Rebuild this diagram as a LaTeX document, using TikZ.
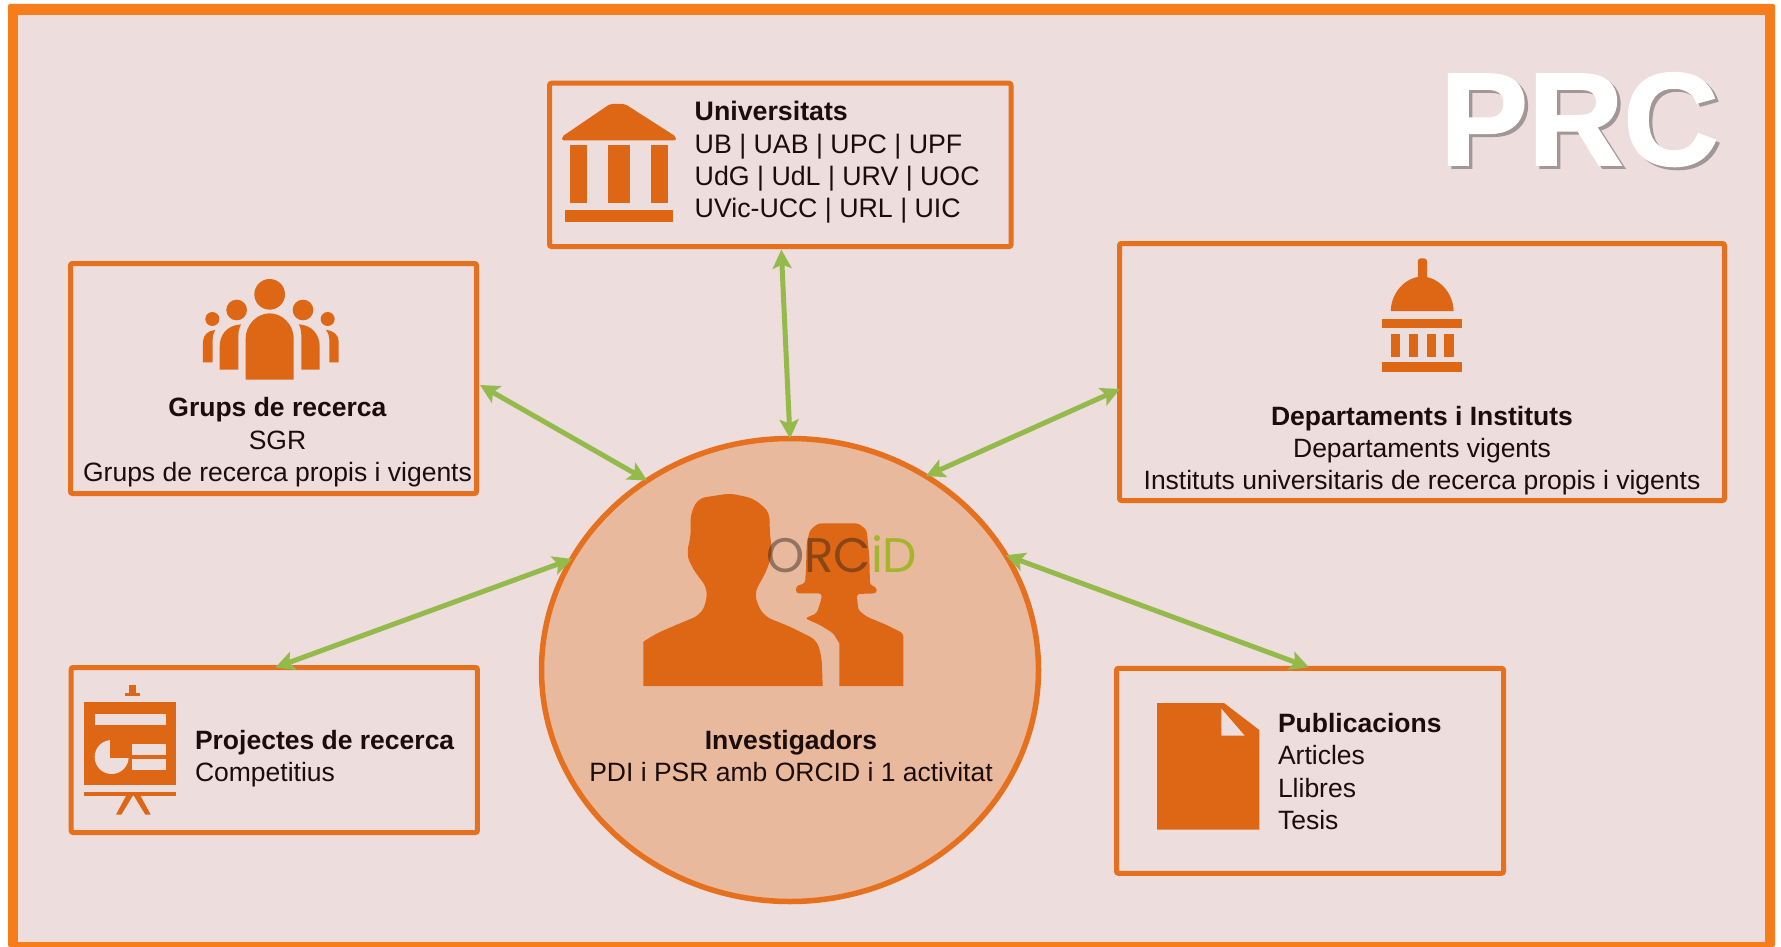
\documentclass[tikz,border=0pt]{standalone}
\usepackage{fontspec}
\setmainfont{Liberation Sans}
\newfontfamily\orcidfont{Poppins}
\newfontfamily\prcfam[BoldFeatures={FakeBold=1.5}]{Liberation Sans}
\usetikzlibrary{arrows.meta,shapes.geometric}
\definecolor{bgc}{HTML}{EDDDDD}
\definecolor{framec}{HTML}{F67D1A}
\definecolor{boxc}{HTML}{E5711F}
\definecolor{iconc}{HTML}{DD6714}
\definecolor{circc}{HTML}{E9B99D}
\definecolor{greenc}{HTML}{94BA4C}
\definecolor{textc}{HTML}{1C0D0D}
\definecolor{orcgray}{HTML}{2A1F1A}
\definecolor{orcgreen}{HTML}{A3B52B}
\definecolor{prcshadow}{HTML}{A29797}
\newcommand{\topstrut}{\rule{0pt}{20pt}}
\tikzset{
  panel/.style={rectangle,draw=boxc,line width=5pt,rounded corners=2pt,inner sep=0pt,outer sep=0pt},
  blocktext/.style={inner sep=0pt,outer sep=0pt,text=textc,font=\fontsize{26.5}{32.4}\selectfont},
  link/.style={draw=greenc,line width=5pt,{Stealth[length=19pt,width=19pt,inset=4pt]}-{Stealth[length=19pt,width=19pt,inset=4pt]}},
  icon/.style={fill=iconc,draw=none},
  cut/.style={fill=bgc,draw=none},
  prcfont/.style={inner sep=0pt,outer sep=0pt,anchor=base west,font=\prcfam\fontsize{132}{132}\selectfont\bfseries}
}
\begin{document}
\begin{tikzpicture}[x=1pt,y=-1pt]
\useasboundingbox (0,0) rectangle (1781,947);
% frame
\fill[framec,rounded corners=2pt] (8,4) rectangle (1775,947);
\fill[bgc] (18,15) rectangle (1765,942);
% panels
\node[panel,minimum width=461.5pt,minimum height=163.3pt] (uni) at (780.3,164.9) {};
\node[panel,minimum width=406pt,minimum height=230pt] (grups) at (273.5,378.5) {};
\node[panel,minimum width=605pt,minimum height=257pt] (dept) at (1422,372) {};
\node[panel,minimum width=406.3pt,minimum height=165pt] (proj) at (274.3,750) {};
\node[panel,minimum width=387pt,minimum height=205pt] (pub) at (1310,770.8) {};
\node[ellipse,draw=boxc,fill=circc,line width=5.5pt,inner sep=0pt,outer sep=0pt,minimum width=497pt,minimum height=463pt] (inv) at (790,670) {};
% connectors
\draw[link] ([shift={(1,3)}]uni.south) -- (inv.90);
\draw[link] ([shift={(3.5,6.5)}]grups.east) -- (inv.127.2);
\draw[link] ([shift={(0.5,17)}]dept.west) -- (inv.55.2);
\draw[link] ([shift={(1,0)}]proj.north) -- (inv.153.8);
\draw[link] ([shift={(-1,-1)}]pub.north) -- (inv.28);
% texts
\node[blocktext,align=left,anchor=north west,font=\fontsize{26.75}{32.4}\selectfont] (tuni) at (694.7,100.7) {\topstrut\textbf{Universitats}\\UB | UAB | UPC | UPF\\UdG | UdL | URV | UOC\\UVic-UCC | URL | UIC};
\node[blocktext,align=center,anchor=north] (tgrups) at (277.5,396.7) {\topstrut\textbf{Grups de recerca}\\SGR\\Grups de recerca propis i vigents};
\node[blocktext,align=center,anchor=north] (tdept) at (1422,405) {\topstrut\textbf{Departaments i Instituts}\\Departaments vigents\\Instituts universitaris de recerca propis i vigents};
\node[blocktext,align=left,anchor=north west] (tproj) at (195,729) {\topstrut\textbf{Projectes de recerca}\\Competitius};
\node[blocktext,align=left,anchor=north west] (tpub) at (1278,712.3) {\topstrut\textbf{Publicacions}\\Articles\\Llibres\\Tesis};
\node[blocktext,align=center,anchor=north] (tinv) at (791,729.3) {\topstrut\textbf{Investigadors}\\PDI i PSR amb ORCID i 1 activitat};
% PRC title
\node[prcfont,text=prcshadow] (prcs) at (1443.5,168) {PRC};
\node[prcfont,text=white] (prc) at (1440,165) {PRC};
% university icon
\begin{scope}[shift={(520,60)},scale=0.33333]
\fill[icon,rounded corners=2pt] (126,230) -- (270,132) -- (315,132) -- (468,230) -- (468,241) -- (126,241) -- cycle;
\fill[icon] (150,255) rectangle (200,430);
\fill[icon] (265,255) rectangle (330,430);
\fill[icon] (394,255) rectangle (444,430);
\fill[icon] (135,450) rectangle (459,487);
\end{scope}
% groups icon
\begin{scope}[shift={(60,250)},scale=0.33333]
\fill[icon] (629,133) circle[radius=46];
\fill[icon] (530,180) circle[radius=31];
\fill[icon] (729,180) circle[radius=31];
\fill[icon] (457,207) circle[radius=21];
\fill[icon] (803,207) circle[radius=21];
\fill[icon] (557,389) -- (557,265) .. controls (557,225) and (590,190) .. (629,190) .. controls (668,190) and (701,225) .. (701,265) -- (701,389) -- cycle;
\fill[icon] (479,359) -- (479,290) .. controls (479,255) and (500,226) .. (543,223) .. controls (535,240) and (535,250) .. (535,265) -- (535,359) -- cycle;
\fill[icon] (779,359) -- (779,290) .. controls (779,255) and (758,226) .. (717,223) .. controls (724,240) and (724,250) .. (724,265) -- (724,359) -- cycle;
\fill[icon] (429,337) -- (429,275) .. controls (429,255) and (445,241) .. (466,240) .. controls (460,250) and (458,258) .. (458,270) -- (458,337) -- cycle;
\fill[icon] (836,337) -- (836,275) .. controls (836,255) and (820,241) .. (798,240) .. controls (805,250) and (808,258) .. (808,270) -- (808,337) -- cycle;
\end{scope}
% department icon
\begin{scope}[shift={(1100,230)},xscale=0.42088,yscale=0.33333]
\fill[icon,rounded corners=3pt] (755,150) -- (755,85) -- (777,85) -- (777,150) -- cycle;
\fill[icon] (691,243) .. controls (691,190) and (725,140) .. (765,140) .. controls (805,140) and (840,190) .. (840,243) -- cycle;
\fill[icon] (670,266) rectangle (860,295);
\fill[icon] (691,311) rectangle (713,382);
\fill[icon] (733,311) rectangle (755,382);
\fill[icon] (776,311) rectangle (798,382);
\fill[icon] (818,311) rectangle (840,382);
\fill[icon] (670,397) rectangle (860,426);
\end{scope}
% project icon
\begin{scope}[shift={(60,650)},scale=0.33333]
\fill[icon] (207,105) rectangle (229,130);
\fill[icon] (195,128) rectangle (241,137);
\fill[icon] (72,157) rectangle (349,405);
\fill[cut] (105,192) rectangle (317,226);
\fill[cut] (155,321) circle[radius=51];
\fill[icon] (150,262) rectangle (210,325);
\fill[cut] (217,282) rectangle (317,316);
\fill[cut] (217,326) rectangle (317,360);
\fill[icon] (72,426) rectangle (349,438);
\fill[icon] (198,438) -- (218,438) -- (184,494) -- (168,494) -- cycle;
\fill[icon] (222,438) -- (242,438) -- (272,494) -- (256,494) -- cycle;
\end{scope}
% publication icon
\begin{scope}[shift={(1100,650)},scale=0.33333]
\fill[icon] (171,159) -- (372,159) -- (478,240) -- (478,539) -- (171,539) -- cycle;
\fill[cut] (364,176) -- (434,257) -- (364,257) -- cycle;
\end{scope}
% researchers icon
\begin{scope}[shift={(620,470)},scale=0.33333]
\fill[icon,rounded corners=7pt] (70,648) [sharp corners] -- (70,515) [rounded corners=7pt] -- (110,490) -- (180,460) -- (240,435) -- (260,395) -- (260,350) -- (235,320) -- (212,285) -- (200,250) -- (212,200) -- (212,130) -- (235,85) -- (330,70) -- (400,85) -- (448,125) -- (450,200) -- (457,240) -- (445,290) -- (420,340) -- (405,360) -- (410,400) -- (435,440) -- (510,470) -- (590,510) -- (605,560) [sharp corners] -- (608,648) -- cycle;
\fill[icon,rounded corners=3pt] (658,648) [sharp corners] -- (658,520) [rounded corners=3pt] -- (640,490) -- (600,465) -- (555,445) -- (590,430) -- (605,385) -- (605,370) -- (528,370) -- (528,348) -- (555,340) -- (558,300) -- (560,220) -- (570,180) -- (595,160) -- (715,160) -- (740,180) -- (748,260) -- (750,345) -- (770,352) -- (770,370) -- (710,372) -- (715,420) -- (740,440) -- (800,465) -- (850,490) [sharp corners] -- (850,648) -- cycle;
\end{scope}
\node[inner sep=0pt,outer sep=0pt,anchor=base west,font=\orcidfont\fontsize{48.5}{48.5}\selectfont] (orcid) at (766,572.7) {\pgfsetfillopacity{0.45}\textcolor{orcgray}{ORC}\pgfsetfillopacity{1}\textcolor{orcgreen}{iD}};
\end{tikzpicture}
\end{document}
